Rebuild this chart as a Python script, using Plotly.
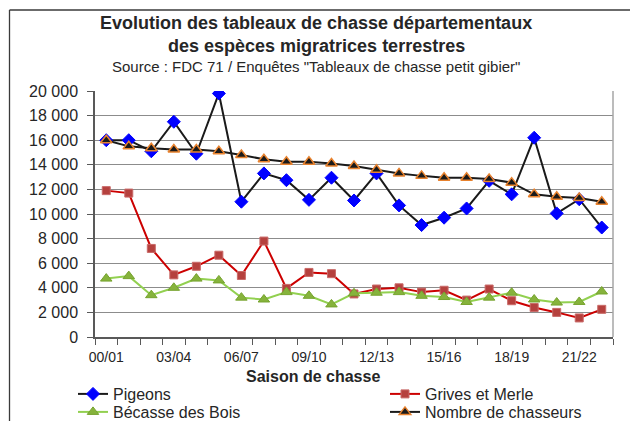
import plotly.graph_objects as go

# Hunting seasons 2000/01 -> 2022/23
seasons = ["00/01", "01/02", "02/03", "03/04", "04/05", "05/06", "06/07", "07/08",
           "08/09", "09/10", "10/11", "11/12", "12/13", "13/14", "14/15", "15/16",
           "16/17", "17/18", "18/19", "19/20", "20/21", "21/22", "22/23"]

pigeons = [16000, 16000, 15100, 17500, 14900, 19800, 11000, 13300, 12750, 11150, 12950, 11100,
           13300, 10700, 9100, 9700, 10450, 12700, 11600, 16200, 10050, 11200, 8900]
grives = [11900, 11700, 7200, 5050, 5750, 6650, 5000, 7800, 3950, 5250, 5150, 3500,
          3900, 4000, 3650, 3800, 3000, 3900, 2950, 2400, 2000, 1550, 2250]
becasse = [4750, 4950, 3400, 4000, 4750, 4600, 3200, 3050, 3650, 3350, 2650, 3550,
           3600, 3650, 3350, 3250, 2850, 3200, 3600, 3050, 2800, 2850, 3700]
chasseurs = [16000, 15500, 15350, 15250, 15250, 15100, 14800, 14450, 14250, 14250, 14100, 13900,
             13600, 13300, 13100, 12950, 12950, 12850, 12550, 11600, 11400, 11300, 11000]

tick_labels = seasons[::3]
tick_pos = list(range(0, len(seasons), 3))
x = list(range(len(seasons)))

FONT = "Arial, Liberation Sans, sans-serif"
TXT = "#262626"

W, H = 630, 421
ML, MR, MT, MB = 95, 17, 91, 84
PW, PH = W - ML - MR, H - MT - MB


def px_x(px):
    return (px - ML) / PW


def px_y(py):
    return (H - MB - py) / PH


fig = go.Figure()

fig.add_trace(go.Scatter(
    x=x, y=pigeons, name="Pigeons", mode="lines+markers", legend="legend",
    line=dict(color="#1a1a1a", width=2),
    marker=dict(symbol="diamond", size=10, color="#0000ff", line=dict(color="#0000ff", width=1)),
))
fig.add_trace(go.Scatter(
    x=x, y=grives, name="Grives et Merle", mode="lines+markers", legend="legend2",
    line=dict(color="#cc0000", width=2),
    marker=dict(symbol="square", size=8, color="#b5413e", line=dict(color="#c96a68", width=1)),
))
fig.add_trace(go.Scatter(
    x=x, y=becasse, name="Bécasse des Bois", mode="lines+markers", legend="legend3",
    line=dict(color="#92d050", width=2),
    marker=dict(symbol="triangle-up", size=10, color="#86b33c", line=dict(color="#76a32e", width=1)),
))
fig.add_trace(go.Scatter(
    x=x, y=chasseurs, name="Nombre de chasseurs", mode="lines+markers", legend="legend4",
    line=dict(color="#1a1a1a", width=2),
    marker=dict(symbol="triangle-up", size=10, color="#1a1a1a", line=dict(color="#e8822e", width=1.5)),
))

# Title block
for text, py, size, bold in [
    ("Evolution des tableaux de chasse départementaux", 23, 18, True),
    ("des espèces migratrices terrestres", 46, 18, True),
    ('Source : FDC 71 / Enquêtes "Tableaux de chasse petit gibier"', 67, 15, False),
]:
    fig.add_annotation(
        text=f"<b>{text}</b>" if bold else text,
        x=px_x(316), y=px_y(py), xref="paper", yref="paper",
        xanchor="center", yanchor="middle", showarrow=False,
        font=dict(family=FONT, size=size, color=TXT),
    )

# X axis title
fig.add_annotation(
    text="<b>Saison de chasse</b>", x=px_x(313), y=px_y(376), xref="paper", yref="paper",
    xanchor="center", yanchor="middle", showarrow=False,
    font=dict(family=FONT, size=16, color=TXT),
)

# Plot-area right border and outer chart frame
fig.add_shape(type="line", xref="paper", yref="paper", x0=1, x1=1, y0=0, y1=1,
              line=dict(color="#a6a6a6", width=1.5))
fig.add_shape(type="line", xref="paper", yref="paper", x0=px_x(9.5), x1=px_x(640),
              y0=px_y(10), y1=px_y(10), line=dict(color="#3a3a3a", width=1.3))
fig.add_shape(type="line", xref="paper", yref="paper", x0=px_x(9.5), x1=px_x(9.5),
              y0=px_y(10), y1=px_y(430), line=dict(color="#3a3a3a", width=1.3))

legend_style = dict(
    xref="container", yref="container", xanchor="left", yanchor="middle",
    bgcolor="rgba(0,0,0,0)", borderwidth=0,
    font=dict(family=FONT, size=16, color=TXT),
)

fig.update_layout(
    width=W, height=H,
    margin=dict(l=ML, r=MR, t=MT, b=MB, autoexpand=False),
    paper_bgcolor="white", plot_bgcolor="white",
    separators=", ",
    showlegend=True,
    legend=dict(x=73 / W, y=1 - 394 / H, **legend_style),
    legend2=dict(x=385 / W, y=1 - 394 / H, **legend_style),
    legend3=dict(x=73 / W, y=1 - 412 / H, **legend_style),
    legend4=dict(x=385 / W, y=1 - 412 / H, **legend_style),
    xaxis=dict(
        range=[-0.5, len(seasons) - 0.5],
        tickmode="array", tickvals=tick_pos, ticktext=tick_labels,
        ticks="", showgrid=False, zeroline=False,
        showline=True, linecolor="#595959", linewidth=1.5,
        tickfont=dict(family=FONT, size=14, color=TXT),
        ticklabelstandoff=6,
        minor=dict(tickmode="linear", tick0=-0.5, dtick=1, ticks="outside",
                   ticklen=6, tickcolor="#595959", tickwidth=1.2, showgrid=False),
    ),
    yaxis=dict(
        range=[0, 20000], dtick=2000, tickformat=",d",
        showgrid=True, gridcolor="#8c8c8c", gridwidth=1.2,
        zeroline=False, showline=True, linecolor="#595959", linewidth=1.5,
        ticks="outside", ticklen=6, tickcolor="#595959", tickwidth=1.2,
        tickfont=dict(family=FONT, size=16, color=TXT),
        ticklabelstandoff=6,
    ),
)

fig.write_html("out.html")
